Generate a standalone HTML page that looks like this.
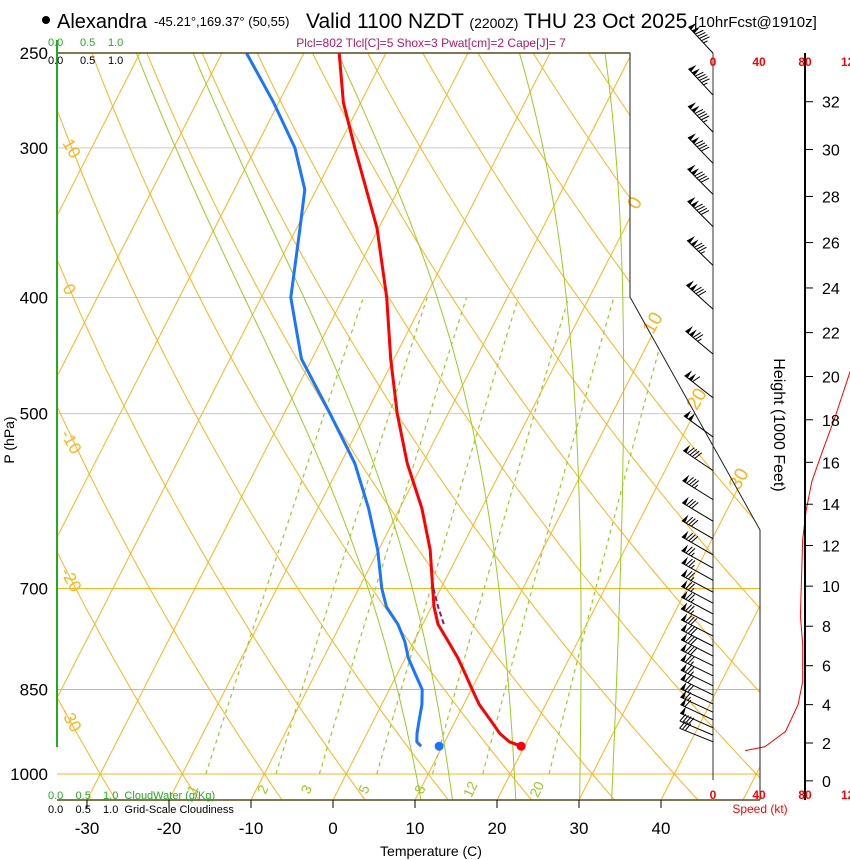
<!DOCTYPE html>
<html><head><meta charset="utf-8">
<style>
html,body{margin:0;padding:0;background:#fff;}
svg{display:block;font-family:"Liberation Sans",sans-serif;}
</style></head>
<body>
<svg id="chart" width="850" height="860" viewBox="0 0 850 860" xmlns="http://www.w3.org/2000/svg">
<defs>
<clipPath id="plotclip"><polygon points="57,53 630,53 630,297 760,530 760,800 57,800"/></clipPath>
</defs>
<rect width="850" height="860" fill="#fff"/>
<g>
<circle cx="46" cy="20" r="4" fill="#000"/>
<text x="57" y="28" font-size="20">Alexandra</text>
<text x="154" y="26" font-size="13">-45.21°,169.37° (50,55)</text>
<text x="306" y="28" font-size="21">Valid 1100 NZDT <tspan font-size="14">(2200Z)</tspan> THU 23 Oct 2025</text>
<text x="694" y="27" font-size="15">[10hrFcst@1910z]</text>
<text x="431" y="47" font-size="12" fill="#b0186a" text-anchor="middle">Plcl=802 Tlcl[C]=5 Shox=3 Pwat[cm]=2 Cape[J]= 7</text>
</g>
<g id="grid" clip-path="url(#plotclip)"></g>
<g id="marks"></g>
<g id="axes"></g>
<g id="winds"></g>
</svg>
<script>
// ---- data ----
const tempP = [948,940,925,900,875,850,825,800,775,750,725,700,650,600,550,500,450,400,350,300,275,250];
const tempT = [19.6,17.9,16.2,14.1,11.9,10.1,8.3,6.4,4.2,1.9,0.3,-1.0,-3.7,-7.3,-11.9,-16.2,-20.4,-24.7,-30.2,-37.9,-42.1,-45.7];
const dewP = [948,940,925,900,875,850,825,800,775,750,725,700,650,600,550,500,450,400,350,325,300,275,250];
const dewT = [7.4,6.6,6.1,5.5,4.9,4.0,2.2,0.35,-1.1,-3.0,-5.5,-7.2,-10.1,-13.8,-18.3,-24.4,-31.3,-36.4,-39.6,-41.4,-45.2,-50.6,-57.0];
const parcelP = [700,725,750];
const parcelT = [-0.9,0.8,2.6];
const surfT = 19.6, surfTd = 9.6, surfP = 948;
const windP = [940,928,915,901,888,874,859,844,828,812,797,782,767,751,735,720,705,689,673,656,636,615,590,558,523,485,446,409,376,349,328,309,291,271,250];
const windSpd = [30,40,50,60,65,70,72,75,77,78,78,78,78,77,77,76,76,77,77,78,79,80,85,90,100,110,125,130,135,140,140,140,145,145,145];
const windDir = [292,293,294,295,295,295,296,296,296,296,297,297,297,297,298,298,298,299,299,300,300,301,302,304,306,308,310,312,314,315,315,316,316,317,317];
const spdHgt = [1.6,1.8,2.6,4.0,5.2,7.1,8.5,10.4,12.3,13.7,15.1,16.5,18.1,20.2,22.5];
const spdVal = [28,45,63,74,78,78,76,77,78,81,86,95,106,119,135];
const heightTicks = [0,2,4,6,8,10,12,14,16,18,20,22,24,26,28,30,32];
const tempTicks = [-30,-20,-10,0,10,20,30,40];
const pTicks = [250,300,400,500,700,850,1000];
const mixRatios = [1,2,3,5,8,12,20];
const moistThetaW = [8.5,12.5,20.5,28.5,32.5];
const speedTicks = [0,40,80,120];

// ---- scales ----
const NS='http://www.w3.org/2000/svg';
function yP(p){return 774+520*Math.log(p/1000);}
function xT(T,p){return 333+8.2*T+0.51*(800-yP(p));}
function hToP(hk){return 1013.25*Math.pow(1-6.8756e-6*hk*1000,5.2559);}
function xSpd(s){return 713+1.15*s;}
function el(tag,attrs,parent){const e=document.createElementNS(NS,tag);for(const k in attrs)e.setAttribute(k,attrs[k]);parent.appendChild(e);return e;}
const gridG=document.getElementById('grid'),marksG=document.getElementById('marks'),axesG=document.getElementById('axes'),windsG=document.getElementById('winds');
const ORANGE='#fbb41c',GREEN='#99cc22';

// isobars
[300,400,500].forEach(p=>{const l=el('line',{x1:57,x2:760,y1:yP(p),y2:yP(p),stroke:'#c8c8c8','stroke-width':1},gridG);

});
[700,850,1000].forEach(p=>{const l=el('line',{x1:57,x2:760,y1:yP(p),y2:yP(p),stroke:ORANGE,'stroke-width':1},gridG);

});
// isotherms
for(let T=-90;T<=60;T+=10){const l=el('line',{x1:xT(T,1060),y1:yP(1060),x2:xT(T,240),y2:yP(240),stroke:ORANGE,'stroke-width':1},gridG);

}
// dry adiabats
for(let th=-50;th<=150;th+=10){let d='';for(let p=1060;p>=240;p-=10){const T=(th+273.15)*Math.pow(p/1000,0.2857)-273.15;d+=(d?'L':'M')+xT(T,p).toFixed(1)+','+yP(p).toFixed(1);}
const l=el('path',{d:d,fill:'none',stroke:ORANGE,'stroke-width':1},gridG);

}
// moist adiabats
function esat(Tc){return 6.112*Math.exp(17.67*Tc/(Tc+243.5));}
function moistPath(tw){const pts=[];let T=tw+273.15;
 const step=(p,dp)=>{const Tc=T-273.15;const e=esat(Tc);const rs=0.622*e/(p-e);const Lv=2.5e6,Rd=287,cp=1005;
  const dTdp=(Rd*T+Lv*rs)/(p*(cp+Lv*Lv*rs*0.622/(Rd*T*T)));T+=dTdp*dp;};
 const down=[];const Ts=T;for(let p=1000;p<1060;p+=5){step(p,5);down.push([T-273.15,p+5]);}
 T=Ts;pts.push([tw,1000]);for(let p=1000;p>240;p-=5){step(p,-5);pts.push([T-273.15,p-5]);}
 return down.reverse().concat(pts);}
moistThetaW.forEach(tw=>{const pts=moistPath(tw);let d='';pts.forEach(q=>{d+=(d?'L':'M')+xT(q[0],q[1]).toFixed(1)+','+yP(q[1]).toFixed(1);});
const l=el('path',{d:d,fill:'none',stroke:GREEN,'stroke-width':1},gridG);

});
// mixing ratio lines
function tOfW(w,p){const e=w*p/(622+w);const a=Math.log(e/6.112);return 243.5*a/(17.67-a);}
mixRatios.forEach(w=>{let d='';for(let p=1000;p>=400;p-=10){d+=(d?'L':'M')+xT(tOfW(w,p),p).toFixed(1)+','+yP(p).toFixed(1);}
const l=el('path',{d:d,fill:'none',stroke:GREEN,'stroke-width':1.2,'stroke-dasharray':'4,4'},gridG);


const lx=xT(tOfW(w,1030),1030)-4,ly=yP(1030)+2;
const t=el('text',{x:lx,y:ly,'font-size':14,fill:GREEN,transform:'rotate(-65 '+lx+' '+ly+')','text-anchor':'middle'},axesG);t.textContent=w;

});

// dry adiabat labels & isotherm labels
[['10',62,143],['0',62,288],['-10',60,434],['-20',60,572],['-30',60,712]].forEach(a=>{const t=el('text',{x:a[1],y:a[2],'font-size':17,fill:ORANGE,transform:'rotate(60 '+a[1]+' '+a[2]+')'},axesG);t.textContent=a[0];

});
[['0',640,206],['10',658,326],['20',702,402],['30',744,482]].forEach(a=>{const t=el('text',{x:a[1],y:a[2],'font-size':19,fill:ORANGE,transform:'rotate(-60 '+a[1]+' '+a[2]+')','text-anchor':'middle'},axesG);t.textContent=a[0];

});

// frame
const frameLine=el('polyline',{points:'57,53 630,53 630,297 760,530 760,800',fill:'none',stroke:'#222','stroke-width':1},axesG);


const topBorder=el('line',{x1:57,x2:630,y1:53,y2:53,stroke:'#5a4a1a','stroke-width':1.5},axesG);


const bottomBorder=el('line',{x1:57,x2:760,y1:800,y2:800,stroke:'#5a4a1a','stroke-width':1.5},axesG);


const greenAxis=el('line',{x1:57,x2:57,y1:40,y2:747,stroke:'#22aa22','stroke-width':2},axesG);


const speedZero=el('line',{x1:713,x2:713,y1:53,y2:780,stroke:'#333','stroke-width':1},axesG);


const heightAxis=el('line',{x1:805,x2:805,y1:53,y2:800,stroke:'#000','stroke-width':2},axesG);



// temp ticks
tempTicks.forEach(T=>{const x=xT(T,1051.3);const tk=el('line',{x1:x,x2:x,y1:800,y2:808,stroke:'#000'},axesG);


const t=el('text',{x:x,y:834,'font-size':17,'text-anchor':'middle'},axesG);t.textContent=T;

});
const xTitle=el('text',{x:431,y:856,'font-size':14,'text-anchor':'middle'},axesG);xTitle.textContent='Temperature (C)';


// pressure labels
pTicks.forEach(p=>{const t=el('text',{x:48,y:yP(p)+6,'font-size':17,'text-anchor':'end'},axesG);t.textContent=p;

});
const yTitle=el('text',{x:14,y:440,'font-size':14,'text-anchor':'middle',transform:'rotate(-90 14 440)'},axesG);yTitle.textContent='P (hPa)';


// height ticks
heightTicks.forEach(h=>{const y=yP(hToP(h));const tk=el('line',{x1:805,x2:813,y1:y,y2:y,stroke:'#000'},axesG);


const t=el('text',{x:822,y:y+6,'font-size':16},axesG);t.textContent=h;

});
const hTitle=el('text',{x:774,y:425,'font-size':16,'text-anchor':'middle',transform:'rotate(90 774 425)'},axesG);hTitle.textContent='Height (1000 Feet)';


// speed tick labels
speedTicks.forEach(s=>{[66,799].forEach(y=>{const t=el('text',{x:xSpd(s),y:y,'font-size':12,'font-weight':'bold',fill:'#ff0000','text-anchor':'middle'},axesG);t.textContent=s;

});});
const sTitle=el('text',{x:760,y:813,'font-size':12,fill:'#ff0000','text-anchor':'middle'},axesG);sTitle.textContent='Speed (kt)';


// cloud labels
[[48,46,'0.0'],[80,46,'0.5'],[108,46,'1.0']].forEach(a=>{const t=el('text',{x:a[0],y:a[1],'font-size':11,fill:'#22aa22'},axesG);t.textContent=a[2];

});
[[48,64,'0.0'],[80,64,'0.5'],[108,64,'1.0']].forEach(a=>{const t=el('text',{x:a[0],y:a[1],'font-size':11,fill:'#000'},axesG);t.textContent=a[2];

});
const cwLegend=el('text',{x:48,y:799,'font-size':11,fill:'#22aa22'},axesG);cwLegend.textContent='0.0\u00a0\u00a0\u00a0\u00a00.5\u00a0\u00a0\u00a0\u00a01.0\u00a0\u00a0CloudWater (g/Kg)';


const cgLegend=el('text',{x:48,y:813,'font-size':11,fill:'#000'},axesG);cgLegend.textContent='0.0\u00a0\u00a0\u00a0\u00a00.5\u00a0\u00a0\u00a0\u00a01.0\u00a0\u00a0Grid-Scale Cloudiness';



// profiles
function profilePath(P,T){return P.map((p,i)=>(i?'L':'M')+xT(T[i],p).toFixed(1)+','+yP(p).toFixed(1)).join('');}
const dewLine=el('path',{d:profilePath(dewP,dewT),fill:'none',stroke:'#1a75ff','stroke-width':3,'stroke-linejoin':'round'},marksG);


const tempLine=el('path',{d:profilePath(tempP,tempT),fill:'none',stroke:'#ff0000','stroke-width':3,'stroke-linejoin':'round'},marksG);


const parcelLine=el('path',{d:profilePath(parcelP,parcelT),fill:'none',stroke:'#8b1a6b','stroke-width':2,'stroke-dasharray':'5,3'},marksG);


const surfDot=el('circle',{cx:xT(surfT,surfP),cy:yP(surfP),r:4.5,fill:'#ff0000'},marksG);


const surfDewDot=el('circle',{cx:xT(surfTd,surfP),cy:yP(surfP),r:4.5,fill:'#1a75ff'},marksG);


// speed curve
const speedCurve=el('path',{d:spdHgt.map((h,i)=>(i?'L':'M')+xSpd(spdVal[i]).toFixed(1)+','+yP(hToP(h)).toFixed(1)).join(''),fill:'none',stroke:'#ff0000','stroke-width':1},marksG);


// wind barbs
windP.forEach((p,i)=>{const bx=713,by=yP(p);const d=windDir[i]*Math.PI/180;const ux=Math.sin(d),uy=-Math.cos(d);
 const L=36;const tx=bx+ux*L,ty=by+uy*L;const px=-uy,py=ux;
 const g=el('g',{},windsG);
 
 
 el('line',{x1:bx,y1:by,x2:tx,y2:ty,stroke:'#000','stroke-width':1},g);
 let s=Math.round(windSpd[i]/5)*5;let pos=0;
 const fx=(px*0.95-ux*0.3)*9, fy=(py*0.95-uy*0.3)*9;
 while(s>=50){const ax=tx-ux*pos,ay=ty-uy*pos;const cx=tx-ux*(pos+4),cy=ty-uy*(pos+4);
  el('polygon',{points:ax+','+ay+' '+(ax+fx)+','+(ay+fy)+' '+cx+','+cy,fill:'#000'},g);pos+=5;s-=50;}
 while(s>=10){const ax=tx-ux*pos,ay=ty-uy*pos;el('line',{x1:ax,y1:ay,x2:ax+fx,y2:ay+fy,stroke:'#000','stroke-width':1},g);pos+=3;s-=10;}
 if(s>=5){const ax=tx-ux*pos,ay=ty-uy*pos;el('line',{x1:ax,y1:ay,x2:ax+fx/2,y2:ay+fy/2,stroke:'#000','stroke-width':1},g);}
});
</script>
</body></html>
